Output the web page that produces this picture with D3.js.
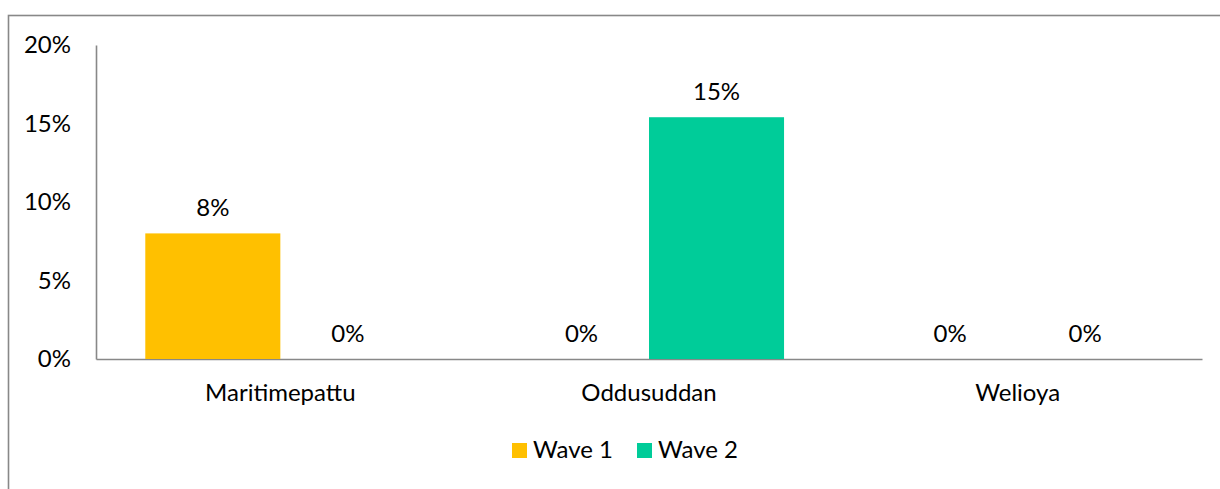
<!DOCTYPE html>
<html>
<head>
<meta charset="utf-8">
<script src="https://cdn.jsdelivr.net/npm/d3@7"></script>
<style>
  body { margin: 0; background: #fff; }
  text { font-family: Lato, "Open Sans", sans-serif; fill: #000; }
</style>
</head>
<body>
<script>
// Data
const categories = ["Maritimepattu", "Oddusuddan", "Welioya"]
const seriesNames = ["Wave 1", "Wave 2"]
const wave1 = [8.0, 0, 0]
const wave2 = [0, 15.4, 0]
const yTicks = [0, 5, 10, 15, 20]
const colors = ["#FFC000", "#00CC99"]

const W = 1220, H = 489
const plot = { left: 96, right: 1202, top: 45, bottom: 359 }
const fontSize = "24px"

const svg = d3.select("body").append("svg")
  .attr("width", W)
  .attr("height", H)

// outer chart border (runs off the right and bottom edges)
svg.append("rect")
  .attr("x", 8.5).attr("y", 15.5)
  .attr("width", 1240).attr("height", 500)
  .attr("fill", "none")
  .attr("stroke", "#888")
  .attr("stroke-width", 1.6)

// Scales
const x0 = d3.scaleBand().domain(categories).range([plot.left, plot.right])
const x1 = d3.scaleBand().domain(seriesNames).range([0, x0.bandwidth()]).paddingOuter(0.365)
const y = d3.scaleLinear().domain([0, 20]).range([plot.bottom, plot.top])

// Y axis
const yAxis = d3.axisLeft(y).tickValues(yTicks).tickSize(0).tickPadding(25).tickFormat(d => d + "%")
const gy = svg.append("g").attr("transform", `translate(${plot.left},0)`).call(yAxis)
gy.select(".domain").attr("stroke", "#888").attr("stroke-width", 1.6)
gy.selectAll("text").style("font-size", fontSize).style("font-family", "Lato, 'Open Sans', sans-serif")

// X axis
const xAxis = d3.axisBottom(x0).tickSize(0).tickPadding(25)
const gx = svg.append("g").attr("transform", `translate(0,${plot.bottom})`).call(xAxis)
gx.select(".domain").attr("stroke", "#888").attr("stroke-width", 1.6)
gx.selectAll("text").style("font-size", fontSize).style("font-family", "Lato, 'Open Sans', sans-serif")

// Bars
const rows = categories.map((c, i) => ({ cat: c, vals: [wave1[i], wave2[i]] }))
const groups = svg.selectAll(".grp")
  .data(rows)
  .enter()
  .append("g")
  .attr("class", "grp")
  .attr("transform", d => `translate(${x0(d.cat)},0)`)

groups.selectAll("rect")
  .data(d => d.vals.map((v, j) => ({ s: seriesNames[j], v, j })))
  .enter()
  .append("rect")
  .attr("x", d => x1(d.s))
  .attr("y", d => y(d.v))
  .attr("width", x1.bandwidth())
  .attr("height", d => y(0) - y(d.v))
  .attr("fill", d => colors[d.j])

// Data labels
groups.selectAll(".lbl")
  .data(d => d.vals.map((v, j) => ({ s: seriesNames[j], v, j })))
  .enter()
  .append("text")
  .attr("class", "lbl")
  .attr("x", d => x1(d.s) + x1.bandwidth() / 2)
  .attr("y", d => y(d.v) - 17)
  .attr("text-anchor", "middle")
  .style("font-size", fontSize)
  .text(d => Math.round(d.v) + "%")

// Legend
const legend = svg.append("g").attr("transform", "translate(512,443)")
const lx = [0, 125]
seriesNames.forEach((s, i) => {
  legend.append("rect")
    .attr("x", lx[i]).attr("y", 0)
    .attr("width", 15).attr("height", 15)
    .attr("fill", colors[i])
  legend.append("text")
    .attr("x", lx[i] + 21).attr("y", 15)
    .style("font-size", fontSize)
    .text(s)
})
</script>
</body>
</html>
